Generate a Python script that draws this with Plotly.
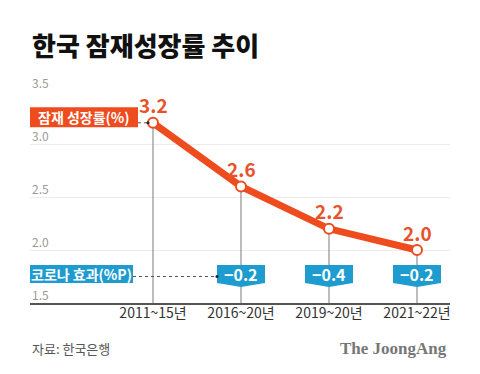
import plotly.graph_objects as go

categories = ["2011~15년", "2016~20년", "2019~20년", "2021~22년"]
growth = [3.2, 2.6, 2.2, 2.0]
growth_labels = ["3.2", "2.6", "2.2", "2.0"]
covid_idx = [1, 2, 3]
covid_vals = ["−0.2", "−0.4", "−0.2"]
y_ticks = [1.5, 2.0, 2.5, 3.0, 3.5]
y_tick_text = ["1.5", "2.0", "2.5", "3.0", "3.5"]

ORANGE = "#EE4C1E"
ORANGE_TXT = "#E8532B"
BLUE = "#1E9CCF"
FONT = "Noto Sans CJK KR"

xs = list(range(len(categories)))
fig = go.Figure()

# vertical drop lines
for x, v in zip(xs, growth):
    fig.add_trace(go.Scatter(x=[x, x], y=[v, y_ticks[0]], mode="lines",
                             line=dict(color="#7a7a7a", width=1),
                             hoverinfo="skip", showlegend=False))

fig.add_trace(go.Scatter(x=xs, y=growth, mode="lines", line=dict(color=ORANGE, width=7),
                         hoverinfo="skip", showlegend=False))
fig.add_trace(go.Scatter(x=xs, y=growth, mode="markers",
                         marker=dict(size=10, color="white", line=dict(color=ORANGE, width=2)),
                         hoverinfo="skip", showlegend=False))

annotations = []
shapes = []
for x, v, t in zip(xs, growth, growth_labels):
    annotations.append(dict(x=x, y=v, xref="x", yref="y", text=t, showarrow=False,
                            yshift=18, font=dict(family=FONT, size=19, color=ORANGE_TXT, weight=700)))

# y tick labels sitting above gridlines
for v, t in zip(y_ticks, y_tick_text):
    annotations.append(dict(x=0, y=v, xref="paper", yref="y", xanchor="left", yanchor="bottom",
                            text=t, showarrow=False, yshift=-2,
                            font=dict(family=FONT, size=12, color="#9a9a9a")))

BOX_Y = 1.75
for i, t in zip(covid_idx, covid_vals):
    shapes.append(dict(type="path", xref="x", yref="y", xsizemode="pixel", ysizemode="pixel",
                       xanchor=i, yanchor=BOX_Y,
                       path="M -24 11.5 L 24 11.5 L 24 -6.5 L 0 -10.5 L -24 -6.5 Z",
                       fillcolor=BLUE, line=dict(width=0), layer="above"))
    annotations.append(dict(x=i, y=BOX_Y, xref="x", yref="y", text=t, showarrow=False,
                            yshift=2.5, font=dict(family=FONT, size=16, color="white", weight=700)))

# legend-like labels
shapes.append(dict(type="rect", xref="paper", yref="y", ysizemode="pixel", yanchor=growth[0],
                   x0=0, x1=108 / 420, y0=15.5, y1=-4.5, fillcolor=ORANGE, line=dict(width=0),
                   layer="above"))
annotations.append(dict(x=54 / 420, y=growth[0], xref="paper", yref="y", xanchor="center",
                        text="잠재 성장률(%)", showarrow=False, yshift=5.5,
                        font=dict(family=FONT, size=14, color="white", weight=700)))
shapes.append(dict(type="line", xref="x", yref="y", x0=(138 - 153) / 88, x1=(149 - 153) / 88,
                   y0=growth[0], y1=growth[0], line=dict(color="#555", width=1, dash="dot")))
shapes.append(dict(type="circle", xref="x", yref="y", xsizemode="pixel", ysizemode="pixel",
                   xanchor=(148 - 153) / 88, yanchor=growth[0], x0=-1.5, x1=1.5, y0=-1.5, y1=1.5,
                   fillcolor="#222", line=dict(width=0)))

shapes.append(dict(type="rect", xref="paper", yref="y", ysizemode="pixel", yanchor=BOX_Y,
                   x0=0, x1=103 / 420, y0=11.5, y1=-6.5, fillcolor=BLUE, line=dict(width=0),
                   layer="above"))
annotations.append(dict(x=51.5 / 420, y=BOX_Y, xref="paper", yref="y", xanchor="center",
                        text="코로나 효과(%P)", showarrow=False, yshift=2.5,
                        font=dict(family=FONT, size=14, color="white", weight=700)))
shapes.append(dict(type="line", xref="x", yref="y", x0=(133 - 153) / 88, x1=covid_idx[0] - 24 / 88,
                   y0=BOX_Y, y1=BOX_Y, line=dict(color="#555", width=1, dash="dot")))
shapes.append(dict(type="circle", xref="x", yref="y", xsizemode="pixel", ysizemode="pixel",
                   xanchor=covid_idx[0] - 24 / 88, yanchor=BOX_Y, x0=-1.5, x1=1.5, y0=-1.5, y1=1.5,
                   fillcolor="#222", line=dict(width=0)))

# title and footer
annotations.append(dict(x=0, y=(303 - 44) / 212, xref="paper", yref="paper", xanchor="left",
                        yanchor="middle", text="한국 잠재성장률 추이", showarrow=False,
                        font=dict(family=FONT, size=26, color="#111", weight=900)))
annotations.append(dict(x=0, y=(303 - 348) / 212, xref="paper", yref="paper", xanchor="left",
                        yanchor="middle", text="자료: 한국은행", showarrow=False,
                        font=dict(family=FONT, size=13, color="#555")))
annotations.append(dict(x=(449 - 30) / 420, y=(303 - 348) / 212, xref="paper", yref="paper",
                        xanchor="right", yanchor="middle", text="The JoongAng", showarrow=False,
                        font=dict(family="Liberation Serif", size=17, color="#777", weight=700)))

fig.update_layout(
    width=480, height=374,
    margin=dict(l=30, r=30, t=91, b=71, pad=0),
    paper_bgcolor="white", plot_bgcolor="white",
    showlegend=False,
    shapes=shapes, annotations=annotations,
    xaxis=dict(range=[(30 - 153) / 88, (450 - 153) / 88], tickvals=xs, ticktext=categories,
               showgrid=False, zeroline=False, showline=True, linecolor="#555", linewidth=1.5,
               ticks="", ticklabelstandoff=-4,
               tickfont=dict(family=FONT, size=14, color="#333"), fixedrange=True),
    yaxis=dict(range=[y_ticks[0], y_ticks[-1]], tickvals=y_ticks,
               showgrid=True, gridcolor="#ececec", gridwidth=1, zeroline=False, showline=False,
               ticks="", showticklabels=False, fixedrange=True),
)

fig.write_html("out.html", post_script="document.body.style.margin='0';",
               config={"displayModeBar": False})
